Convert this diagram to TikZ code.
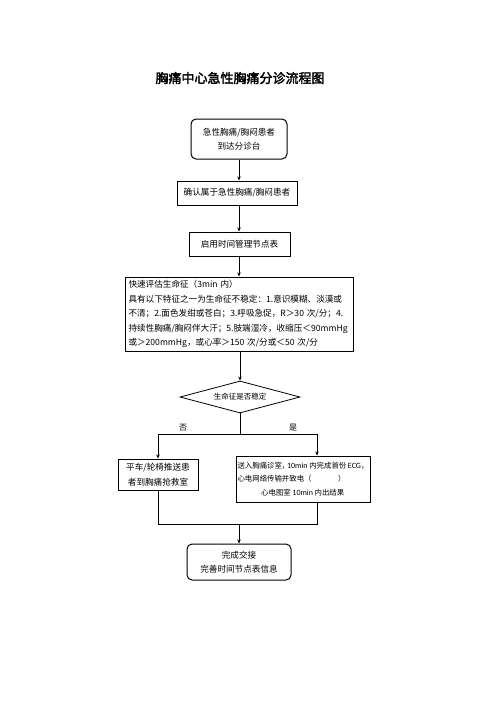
\documentclass[tikz,border=0pt]{standalone}
\usepackage{fontspec}
\usepackage{tikz}
\usetikzlibrary{arrows.meta,shapes.geometric}
\newfontfamily\cjk{Noto Sans CJK SC}
\newfontfamily\cjkbf{Noto Sans CJK SC}[FakeBold=2.5]
\newfontfamily\lat{Carlito}

\begin{document}
\begin{tikzpicture}[x=1pt, y=-1pt, >={Stealth[length=4pt,width=3.5pt]},
  box/.style={draw, line width=1pt, font=\cjk\fontsize{8.6}{14.5}\selectfont, inner sep=0pt, align=center},
  line/.style={line width=0.9pt}]
\useasboundingbox (0,0) rectangle (496,702);

% title
\node[font=\cjkbf\fontsize{13}{15}\selectfont] (title) at (240,78) {胸痛中心急性胸痛分诊流程图};

% boxes
\node[box, rounded corners=5pt, minimum width=96pt, minimum height=40pt] (arrive) at (239,139) {急性胸痛/胸闷患者\\到达分诊台};
\node[box, minimum width=120pt, minimum height=24pt] (confirm) at (237,193) {确认属于急性胸痛/胸闷患者};
\node[box, minimum width=101pt, minimum height=24pt] (timing) at (239.5,244) {启用时间管理节点表};
\node[box, minimum width=228pt, minimum height=74pt, align=left, text width=221pt, inner xsep=3.5pt] (assess) at (239,314)
  {快速评估生命征（3min 内）\\具有以下特征之一为生命征不稳定：1.意识模糊、淡漠或\\不清；2.面色发绀或苍白；3.呼吸急促，R＞30 次/分；4.\\持续性胸痛/胸闷伴大汗；5.肢端湿冷，收缩压＜90mmHg\\或＞200mmHg，或心率＞150 次/分或＜50 次/分};
\node[draw, diamond, aspect=3.75, line width=0.8pt, inner sep=1pt, minimum width=120pt, minimum height=32pt,
  font=\cjk\fontsize{7.5}{9}\selectfont] (stable) at (240,397) {生命征是否稳定};
\node[box, minimum width=80pt, minimum height=31pt] (rescue) at (158,474.5) {平车/轮椅推送患\\者到胸痛抢救室};
\node[box, minimum width=134pt, minimum height=46pt, align=left,
  font=\cjk\fontsize{7.4}{13.5}\selectfont] (ecg) at (303,479)
  {送入胸痛诊室，\hspace{-0.3em}{\lat\fontsize{8}{13.5}\selectfont 10min} 内完成首份 {\lat\fontsize{8}{13.5}\selectfont ECG}，\hspace{-0.5em}\\心电网络传输并致电（\hspace{3.6em}）\\\hspace{3.2em}心电图室 {\lat\fontsize{8}{13.5}\selectfont 10min} 内出结果};
\node[box, rounded corners=5pt, minimum width=104pt, minimum height=36pt] (handover) at (239,562) {完成交接\\完善时间节点表信息};

% branch points
\coordinate (split) at (240,434);
\coordinate (joinL) at (158,524);
\coordinate (joinR) at (317,524);
\coordinate (join) at (239,524);

% connectors
\draw[->, line] (arrive.south) -- (confirm.north -| arrive.south);
\draw[->, line] (confirm.south -| arrive.south) -- (timing.north -| arrive.south);
\draw[->, line] (timing.south -| arrive.south) -- (assess.north -| arrive.south);
\draw[->, line] (assess.south -| stable.north) -- (stable.north);
\draw[line] (stable.south) -- (split);
\draw[->, line] (split) -| (rescue.north);
\draw[->, line] (split) -| (joinR |- ecg.north);
\draw[line] (rescue.south) -- (joinL) -- (joinR) -- (joinR |- ecg.south);
\draw[->, line] (join) -- (handover.north -| join);

% labels
\node[font=\cjk\fontsize{8}{9}\selectfont] (no) at (183,428) {否};
\node[font=\cjk\fontsize{8}{9}\selectfont] (yes) at (293,428) {是};
\end{tikzpicture}
\end{document}
